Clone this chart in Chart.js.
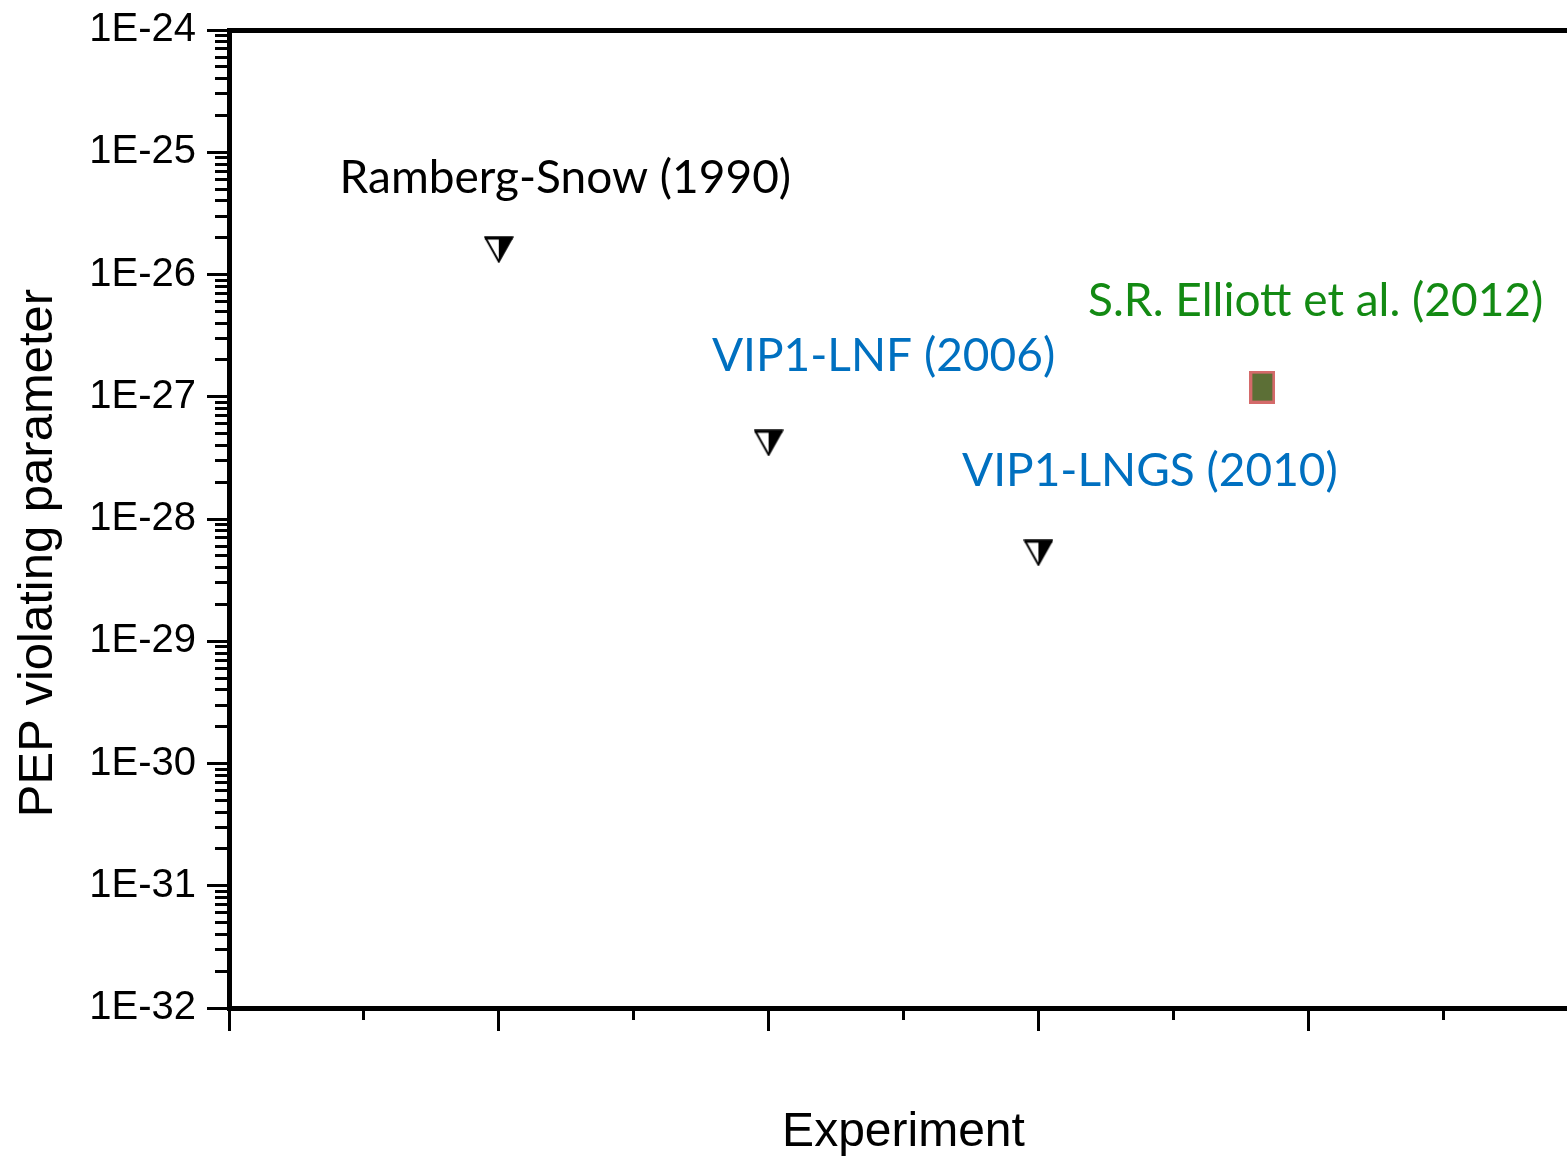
<!DOCTYPE html>
<html>
<head>
<meta charset="utf-8">
<title>PEP violating parameter</title>
<script src="https://cdn.jsdelivr.net/npm/chart.js@4/dist/chart.umd.min.js"></script>
<style>
  html, body { margin: 0; padding: 0; background: #fff; overflow: hidden; }
  #wrap { width: 1567px; height: 1159px; overflow: hidden; }
</style>
</head>
<body>
<div id="wrap"><canvas id="pep-chart" width="1600" height="1159"></canvas></div>
<script>
// ── Data ──────────────────────────────────────────────
const yDecades    = [-32, -31, -30, -29, -28, -27, -26, -25, -24];
const yTickLabels = ['1E-32', '1E-31', '1E-30', '1E-29', '1E-28', '1E-27', '1E-26', '1E-25', '1E-24'];

// upper limits (triangles)
const limitNames = ['Ramberg-Snow (1990)', 'VIP1-LNF (2006)', 'VIP1-LNGS (2010)'];
const limitX     = [1, 2, 3];
const limitY     = [1.6e-26, 4.2e-28, 5.3e-29];

// measurement (square)
const elliottName = 'S.R. Elliott et al. (2012)';
const elliottX    = [3.83];
const elliottY    = [1.2e-27];

// label anchors, in data units (left / baseline of text)
const labelTexts   = [limitNames[0], limitNames[1], limitNames[2], elliottName];
const labelAnchorX = [0.41, 1.79, 2.717, 3.184];
const labelAnchorY = [4.64e-26, 1.63e-27, 1.86e-28, 4.57e-27];
const labelColors  = ['#000000', '#0070C0', '#0070C0', '#138A13'];

// ── Markers ───────────────────────────────────────────
function triangleMarker() {
  const c = document.createElement('canvas');
  c.width = 30; c.height = 27;
  const g = c.getContext('2d');
  g.fillStyle = '#fff';
  g.beginPath(); g.moveTo(1.5, 1.5); g.lineTo(15, 1.5); g.lineTo(15, 25.5); g.closePath(); g.fill();
  g.fillStyle = '#000';
  g.beginPath(); g.moveTo(15, 1.5); g.lineTo(28.5, 1.5); g.lineTo(15, 25.5); g.closePath(); g.fill();
  g.strokeStyle = '#000';
  g.lineWidth = 2;
  g.beginPath(); g.moveTo(1.5, 1.5); g.lineTo(28.5, 1.5); g.lineTo(15, 25.5); g.closePath(); g.stroke();
  g.lineWidth = 3;
  g.beginPath(); g.moveTo(1, 2); g.lineTo(29, 2); g.stroke();
  return c;
}

function squareMarker() {
  const c = document.createElement('canvas');
  c.width = 26; c.height = 33;
  const g = c.getContext('2d');
  g.fillStyle = '#5C6F36';
  g.fillRect(1.5, 1.5, 23, 30);
  g.strokeStyle = '#D46A6A';
  g.lineWidth = 3;
  g.strokeRect(1.5, 1.5, 23, 30);
  return c;
}

function isDecade(v) {
  const l = Math.log10(v);
  return Math.abs(l - Math.round(l)) < 1e-6;
}

// ── Labels plugin ─────────────────────────────────────
const labelPlugin = {
  id: 'pointLabels',
  afterDatasetsDraw(chart) {
    const ctx = chart.ctx;
    const xs = chart.scales.x, ys = chart.scales.y;
    ctx.save();
    ctx.font = '46px Lato';
    ctx.textAlign = 'left';
    ctx.textBaseline = 'alphabetic';
    labelTexts.forEach(function(t, i) {
      ctx.fillStyle = labelColors[i];
      ctx.fillText(t, xs.getPixelForValue(labelAnchorX[i]), ys.getPixelForValue(labelAnchorY[i]));
    });
    ctx.restore();
  }
};

const tri = triangleMarker();
const sq  = squareMarker();

new Chart(document.getElementById('pep-chart'), {
  type: 'scatter',
  data: {
    datasets: [
      {
        label: 'limits',
        data: limitX.map(function(x, i) { return { x: x, y: limitY[i] }; }),
        pointStyle: tri,
        pointRadius: 14,
      },
      {
        label: 'Elliott',
        data: elliottX.map(function(x, i) { return { x: x, y: elliottY[i] }; }),
        pointStyle: sq,
        pointRadius: 14,
      }
    ]
  },
  options: {
    responsive: false,
    animation: false,
    devicePixelRatio: 1,
    layout: { padding: { left: 0, right: 22, top: 0, bottom: 0 } },
    plugins: { legend: { display: false }, tooltip: { enabled: false } },
    scales: {
      x: {
        type: 'linear',
        position: 'bottom',
        min: 0,
        max: 5,
        afterFit: function(s) { s.height = 151; s.paddingLeft = 0; s.paddingRight = 0; },
        ticks: {
          stepSize: 0.5,
          autoSkip: false,
          callback: function() { return ''; },
          padding: 0,
        },
        grid: {
          drawOnChartArea: false,
          tickLength: 23,
          tickWidth: 3,
          tickColor: '#000',
          tickBorderDash: function(c) {
            return (c.tick && Number.isInteger(c.tick.value)) ? [] : [9, 100];
          },
        },
        border: { display: true, color: '#000', width: 5 },
        title: {
          display: true,
          text: 'Experiment',
          color: '#000',
          font: { family: 'Liberation Sans', size: 48, lineHeight: 1.1 },
          padding: { top: 0, bottom: 0 },
        },
      },
      x2: {
        type: 'linear',
        position: 'top',
        min: 0,
        max: 5,
        afterFit: function(s) { s.height = 30; s.paddingLeft = 0; s.paddingRight = 0; },
        ticks: { display: false },
        grid: { drawOnChartArea: false, drawTicks: false },
        border: { display: true, color: '#000', width: 5 },
      },
      y: {
        type: 'logarithmic',
        position: 'left',
        min: Math.pow(10, yDecades[0]),
        max: Math.pow(10, yDecades[yDecades.length - 1]),
        bounds: 'data',
        afterFit: function(s) { s.width = 229; s.paddingTop = 0; s.paddingBottom = 0; },
        afterBuildTicks: function(s) {
          const ticks = [];
          yDecades.forEach(function(e, i) {
            const top = i === yDecades.length - 1 ? 1 : 9;
            for (let m = 1; m <= top; m++) {
              ticks.push({ value: m * Math.pow(10, e), major: m === 1 });
            }
          });
          s.ticks = ticks;
        },
        ticks: {
          autoSkip: false,
          padding: 11,
          color: '#000',
          font: { family: 'Liberation Sans', size: 40 },
          callback: function(v) {
            if (!isDecade(v)) return '';
            const idx = yDecades.indexOf(Math.round(Math.log10(v)));
            return idx >= 0 ? yTickLabels[idx] : '';
          },
        },
        grid: {
          drawOnChartArea: false,
          tickLength: 22,
          tickWidth: 3,
          tickColor: '#000',
          tickBorderDash: function(c) {
            return (c.tick && isDecade(c.tick.value)) ? [] : [12, 100];
          },
          tickBorderDashOffset: function(c) {
            return (c.tick && isDecade(c.tick.value)) ? 0 : 104;
          },
        },
        border: { display: true, color: '#000', width: 5 },
        title: {
          display: true,
          text: 'PEP violating parameter     ',
          color: '#000',
          font: { family: 'Liberation Sans', size: 49 },
          padding: { top: 9, bottom: 0 },
        },
      },
    }
  },
  plugins: [labelPlugin]
});
</script>
</body>
</html>
